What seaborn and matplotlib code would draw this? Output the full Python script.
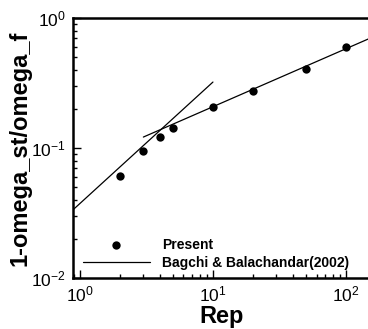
import matplotlib
matplotlib.use("Agg")
import matplotlib.pyplot as plt
import seaborn as sns
import numpy as np
from matplotlib.ticker import LogLocator, NullFormatter

sns.set_theme(style="white")
plt.rcParams['font.family'] = ['Liberation Sans', 'DejaVu Sans']
plt.rcParams['mathtext.fontset'] = 'custom'
plt.rcParams['mathtext.rm'] = 'Liberation Sans'
plt.rcParams['mathtext.default'] = 'regular'
plt.rcParams['text.color'] = 'black'
plt.rcParams['axes.labelcolor'] = 'black'
plt.rcParams['xtick.color'] = 'black'
plt.rcParams['ytick.color'] = 'black'

# Present data
rep = [2, 3, 4, 5, 10, 20, 50, 100]
ratio = [0.061, 0.095, 0.1215, 0.1425, 0.207, 0.275, 0.405, 0.598]

# Bagchi & Balachandar (2002) correlation segments
low_x = [0.886, 10.0]
low_y = [0.0334, 0.322]
high_x = [3.0, 150.0]
high_y = [0.1215, 0.697]

fig = plt.figure(figsize=(3.68, 3.29), dpi=100)
ax = fig.add_axes([0.198, 0.155, 0.806, 0.790])

sns.scatterplot(x=rep, y=ratio, ax=ax, color='black', s=36, edgecolor='black',
                linewidth=0, label='Present', zorder=3)
sns.lineplot(x=low_x, y=low_y, ax=ax, color='black', linewidth=0.9,
             label='Bagchi & Balachandar(2002)', estimator=None)
sns.lineplot(x=high_x, y=high_y, ax=ax, color='black', linewidth=0.9,
             estimator=None)

ax.set_xscale('log')
ax.set_yscale('log')
ax.set_xlim(0.886, 150)
ax.set_ylim(0.01, 1.0)

ax.xaxis.set_major_locator(LogLocator(base=10, numticks=10))
ax.xaxis.set_minor_locator(LogLocator(base=10, subs=np.arange(2, 10), numticks=20))
ax.yaxis.set_major_locator(LogLocator(base=10, numticks=10))
ax.yaxis.set_minor_locator(LogLocator(base=10, subs=np.arange(2, 10), numticks=20))
ax.xaxis.set_minor_formatter(NullFormatter())
ax.yaxis.set_minor_formatter(NullFormatter())

ax.tick_params(which='both', direction='in', bottom=True, left=True, top=False, right=False,
               colors='black', labelsize=12.5, width=1)
ax.tick_params(which='major', length=6, pad=5)
ax.tick_params(which='minor', length=3)

for sp in ax.spines.values():
    sp.set_color('black')
    sp.set_linewidth(1.8)

ax.set_xlabel('Rep', fontsize=17, fontweight='bold', labelpad=0)
ax.set_ylabel('1-omega_st/omega_f', fontsize=17, fontweight='bold', labelpad=0)

leg = ax.legend(loc='lower left', bbox_to_anchor=(0.034, 0.03), frameon=False,
                prop={'weight': 'bold', 'size': 10}, handlelength=4.8,
                handletextpad=0.9, borderpad=0, borderaxespad=0, labelspacing=0.3)

fig.savefig('out.png', dpi=100)
